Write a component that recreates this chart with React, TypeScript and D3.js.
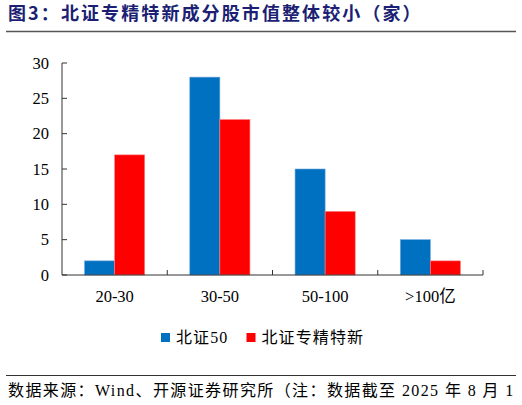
import React from "react";
import * as d3 from "d3";

const categories = ["20-30", "30-50", "50-100", ">100亿"];
const seriesNames = ["北证50", "北证专精特新"];
const bz50 = [2, 28, 15, 5];
const zjtx = [17, 22, 9, 2];
const yTicks = [0, 5, 10, 15, 20, 25, 30];
const colors = ["#0070C0", "#FF0000"];

const W = 522, H = 405;
const m = { left: 62, right: 483, top: 63, bottom: 275 };

const serif = "'Liberation Serif', 'Times New Roman', 'Noto Sans CJK SC', serif";

export default function App() {
  const x = d3.scaleBand<string>().domain(categories).range([m.left, m.right]).paddingInner(0).paddingOuter(0);
  const y = d3.scaleLinear().domain([0, 30]).range([m.bottom, m.top]);
  const inner = d3.scaleBand<number>().domain([0, 1]).range([0, x.bandwidth()]).paddingInner(0).paddingOuter(0.75);
  const series = [bz50, zjtx];
  return (
    <svg width={W} height={H} style={{ position: "absolute", left: 0, top: 0, background: "#fff" }}>
      <text x={8} y={20} fontFamily="'Noto Sans CJK SC', sans-serif" fontWeight={700} fontSize={18} fill="#1c1f73" letterSpacing={2.1}>
        图3：北证专精特新成分股市值整体较小（家）
      </text>
      <line x1={6} x2={516} y1={31.5} y2={31.5} stroke="#555" strokeWidth={1.5} />
      {series.map((vals, si) =>
        vals.map((v, i) => (
          <rect
            key={`${si}-${i}`}
            x={(x(categories[i]) ?? 0) + (inner(si) ?? 0)}
            y={y(v)}
            width={inner.bandwidth()}
            height={y(0) - y(v)}
            fill={colors[si]}
            stroke={si === 0 ? "#6fa8dc" : "#ff8080"}
            strokeWidth={0.6}
          />
        ))
      )}
      <line x1={m.left} x2={m.left} y1={m.top} y2={m.bottom} stroke="#333" strokeWidth={1} />
      <line x1={m.left} x2={m.right} y1={m.bottom} y2={m.bottom} stroke="#333" strokeWidth={1} />
      {yTicks.map((t) => (
        <g key={t}>
          <line x1={m.left} x2={m.left + 5} y1={y(t)} y2={y(t)} stroke="#333" />
          <text x={49} y={y(t) + 5.5} textAnchor="end" fontFamily={serif} fontSize={16.5} fill="#000">
            {t}
          </text>
        </g>
      ))}
      {categories.map((c, i) => (
        <g key={c}>
          {i > 0 && <line x1={x(c)} x2={x(c)} y1={m.bottom} y2={m.bottom - 5} stroke="#333" />}
          <text x={(x(c) ?? 0) + x.bandwidth() / 2} y={302} textAnchor="middle" fontFamily={serif} fontSize={16.5} fill="#000">
            {c}
          </text>
        </g>
      ))}
      <line x1={m.right} x2={m.right} y1={m.bottom} y2={m.bottom - 5} stroke="#333" />
      {seriesNames.map((s, i) => {
        const lx = i === 0 ? 161 : 246.5;
        return (
          <g key={s}>
            <rect x={lx} y={333} width={9} height={9} fill={colors[i]} />
            <text x={lx + 15} y={343} fontFamily={serif} fontSize={16} fill="#000" letterSpacing={1.1}>
              {s}
            </text>
          </g>
        );
      })}
      <line x1={6} x2={516} y1={375.5} y2={375.5} stroke="#333" strokeWidth={1} />
      <text x={8} y={396} fontFamily={serif} fontSize={16} fill="#000" letterSpacing={1.4}>
        数据来源：Wind、开源证券研究所（注：数据截至 2025 年 8 月 1
      </text>
    </svg>
  );
}
